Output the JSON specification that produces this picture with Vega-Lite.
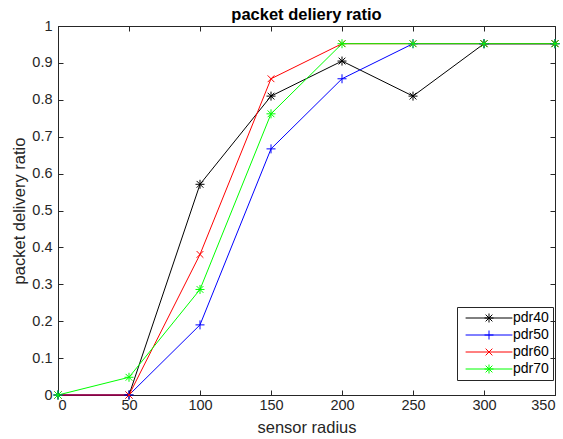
{
  "$schema": "https://vega.github.io/schema/vega-lite/v6.json",
  "autosize": {"type": "none"},
  "padding": {"left": 58, "top": 26, "right": 8, "bottom": 44},
  "width": 497,
  "height": 369,
  "background": "white",
  "title": {"text": "packet deliery ratio", "fontSize": 16.5, "fontWeight": "bold", "font": "Liberation Sans", "color": "#000000", "offset": -5},
  "data": {"values": [
    {"radius": 0, "ratio": 0, "series": "pdr40"},
    {"radius": 50, "ratio": 0, "series": "pdr40"},
    {"radius": 100, "ratio": 0.571, "series": "pdr40"},
    {"radius": 150, "ratio": 0.81, "series": "pdr40"},
    {"radius": 200, "ratio": 0.905, "series": "pdr40"},
    {"radius": 250, "ratio": 0.81, "series": "pdr40"},
    {"radius": 300, "ratio": 0.952, "series": "pdr40"},
    {"radius": 350, "ratio": 0.952, "series": "pdr40"},
    {"radius": 0, "ratio": 0, "series": "pdr50"},
    {"radius": 50, "ratio": 0, "series": "pdr50"},
    {"radius": 100, "ratio": 0.19, "series": "pdr50"},
    {"radius": 150, "ratio": 0.667, "series": "pdr50"},
    {"radius": 200, "ratio": 0.857, "series": "pdr50"},
    {"radius": 250, "ratio": 0.952, "series": "pdr50"},
    {"radius": 300, "ratio": 0.952, "series": "pdr50"},
    {"radius": 350, "ratio": 0.952, "series": "pdr50"},
    {"radius": 0, "ratio": 0, "series": "pdr60"},
    {"radius": 50, "ratio": 0, "series": "pdr60"},
    {"radius": 100, "ratio": 0.381, "series": "pdr60"},
    {"radius": 150, "ratio": 0.857, "series": "pdr60"},
    {"radius": 200, "ratio": 0.952, "series": "pdr60"},
    {"radius": 250, "ratio": 0.952, "series": "pdr60"},
    {"radius": 300, "ratio": 0.952, "series": "pdr60"},
    {"radius": 350, "ratio": 0.952, "series": "pdr60"},
    {"radius": 0, "ratio": 0, "series": "pdr70"},
    {"radius": 50, "ratio": 0.048, "series": "pdr70"},
    {"radius": 100, "ratio": 0.286, "series": "pdr70"},
    {"radius": 150, "ratio": 0.762, "series": "pdr70"},
    {"radius": 200, "ratio": 0.952, "series": "pdr70"},
    {"radius": 250, "ratio": 0.952, "series": "pdr70"},
    {"radius": 300, "ratio": 0.952, "series": "pdr70"},
    {"radius": 350, "ratio": 0.952, "series": "pdr70"}
  ]},
  "layer": [
    {
      "mark": {"type": "line", "strokeWidth": 1, "clip": false},
      "encoding": {
        "x": {"field": "radius", "type": "quantitative", "scale": {"domain": [0, 350], "nice": false},
              "axis": {"orient": "bottom", "title": "sensor radius", "values": [0, 50, 100, 150, 200, 250, 300, 350], "grid": false, "labelPadding": 8, "titlePadding": 8}},
        "y": {"field": "ratio", "type": "quantitative", "scale": {"domain": [0, 1], "nice": false},
              "axis": {"orient": "left", "title": "packet delivery ratio", "values": [0, 0.1, 0.2, 0.3, 0.4, 0.5, 0.6, 0.7, 0.8, 0.9, 1], "format": "~g", "grid": false, "labelPadding": 11, "titlePadding": 4}},
        "stroke": {"field": "series", "type": "nominal",
                  "scale": {"range": ["#000000", "#0000ff", "#ff0000", "#00ff00"]},
                  "legend": {"orient": "none", "legendX": 399, "legendY": 281, "title": null,
                             "strokeColor": "#262626", "padding": 4,
                             "labelFontSize": 14, "labelFont": "Liberation Sans", "labelColor": "#000000",
                             "symbolType": "M-5.2,0L5.2,0", "symbolSize": 81, "symbolOffset": 21, "labelOffset": 17, "rowPadding": 3, "symbolStrokeWidth": 1, "zindex": 1}}
      }
    },
    {
      "mark": {"type": "point", "filled": false, "strokeWidth": 1, "size": 81, "opacity": 1, "clip": false},
      "encoding": {
        "x": {"field": "radius", "type": "quantitative",
              "axis": {"orient": "top", "title": null, "labels": false, "domain": false, "values": [0, 50, 100, 150, 200, 250, 300, 350], "grid": false}},
        "y": {"field": "ratio", "type": "quantitative",
              "axis": {"orient": "right", "title": null, "labels": false, "domain": false, "values": [0, 0.1, 0.2, 0.3, 0.4, 0.5, 0.6, 0.7, 0.8, 0.9, 1], "grid": false}},
        "color": {"field": "series", "type": "nominal",
                  "scale": {"domain": ["pdr40", "pdr50", "pdr60", "pdr70"], "range": ["#000000", "#0000ff", "#ff0000", "#00ff00"]},
                  "legend": {"orient": "none", "legendX": 399, "legendY": 281, "title": null,
                             "padding": 4,
                             "labelFontSize": 14, "labelFont": "Liberation Sans", "labelOpacity": 0,
                             "symbolSize": 81, "symbolOffset": 21, "labelOffset": 17, "rowPadding": 3, "symbolStrokeWidth": 1, "zindex": 2}},
        "shape": {"field": "series", "type": "nominal",
                  "scale": {"domain": ["pdr40", "pdr50", "pdr60", "pdr70"],
                            "range": ["M-1,0L1,0M0,-1L0,1M-0.75,-0.75L0.75,0.75M-0.75,0.75L0.75,-0.75", "M-1,0L1,0M0,-1L0,1", "M-0.75,-0.75L0.75,0.75M-0.75,0.75L0.75,-0.75", "M-1,0L1,0M0,-1L0,1M-0.75,-0.75L0.75,0.75M-0.75,0.75L0.75,-0.75"]}}
      }
    }
  ],
  "resolve": {"axis": {"x": "independent", "y": "independent"}},
  "config": {
    "view": {"stroke": "#262626", "strokeWidth": 1},
    "font": "Liberation Sans",
    "axis": {"labelFontSize": 14.5, "labelFont": "Liberation Sans", "labelColor": "#262626",
             "titleFontSize": 16.5, "titleFont": "Liberation Sans", "titleFontWeight": "normal", "titleColor": "#262626",
             "domainColor": "#262626", "tickColor": "#262626", "tickSize": -5}
  }
}
